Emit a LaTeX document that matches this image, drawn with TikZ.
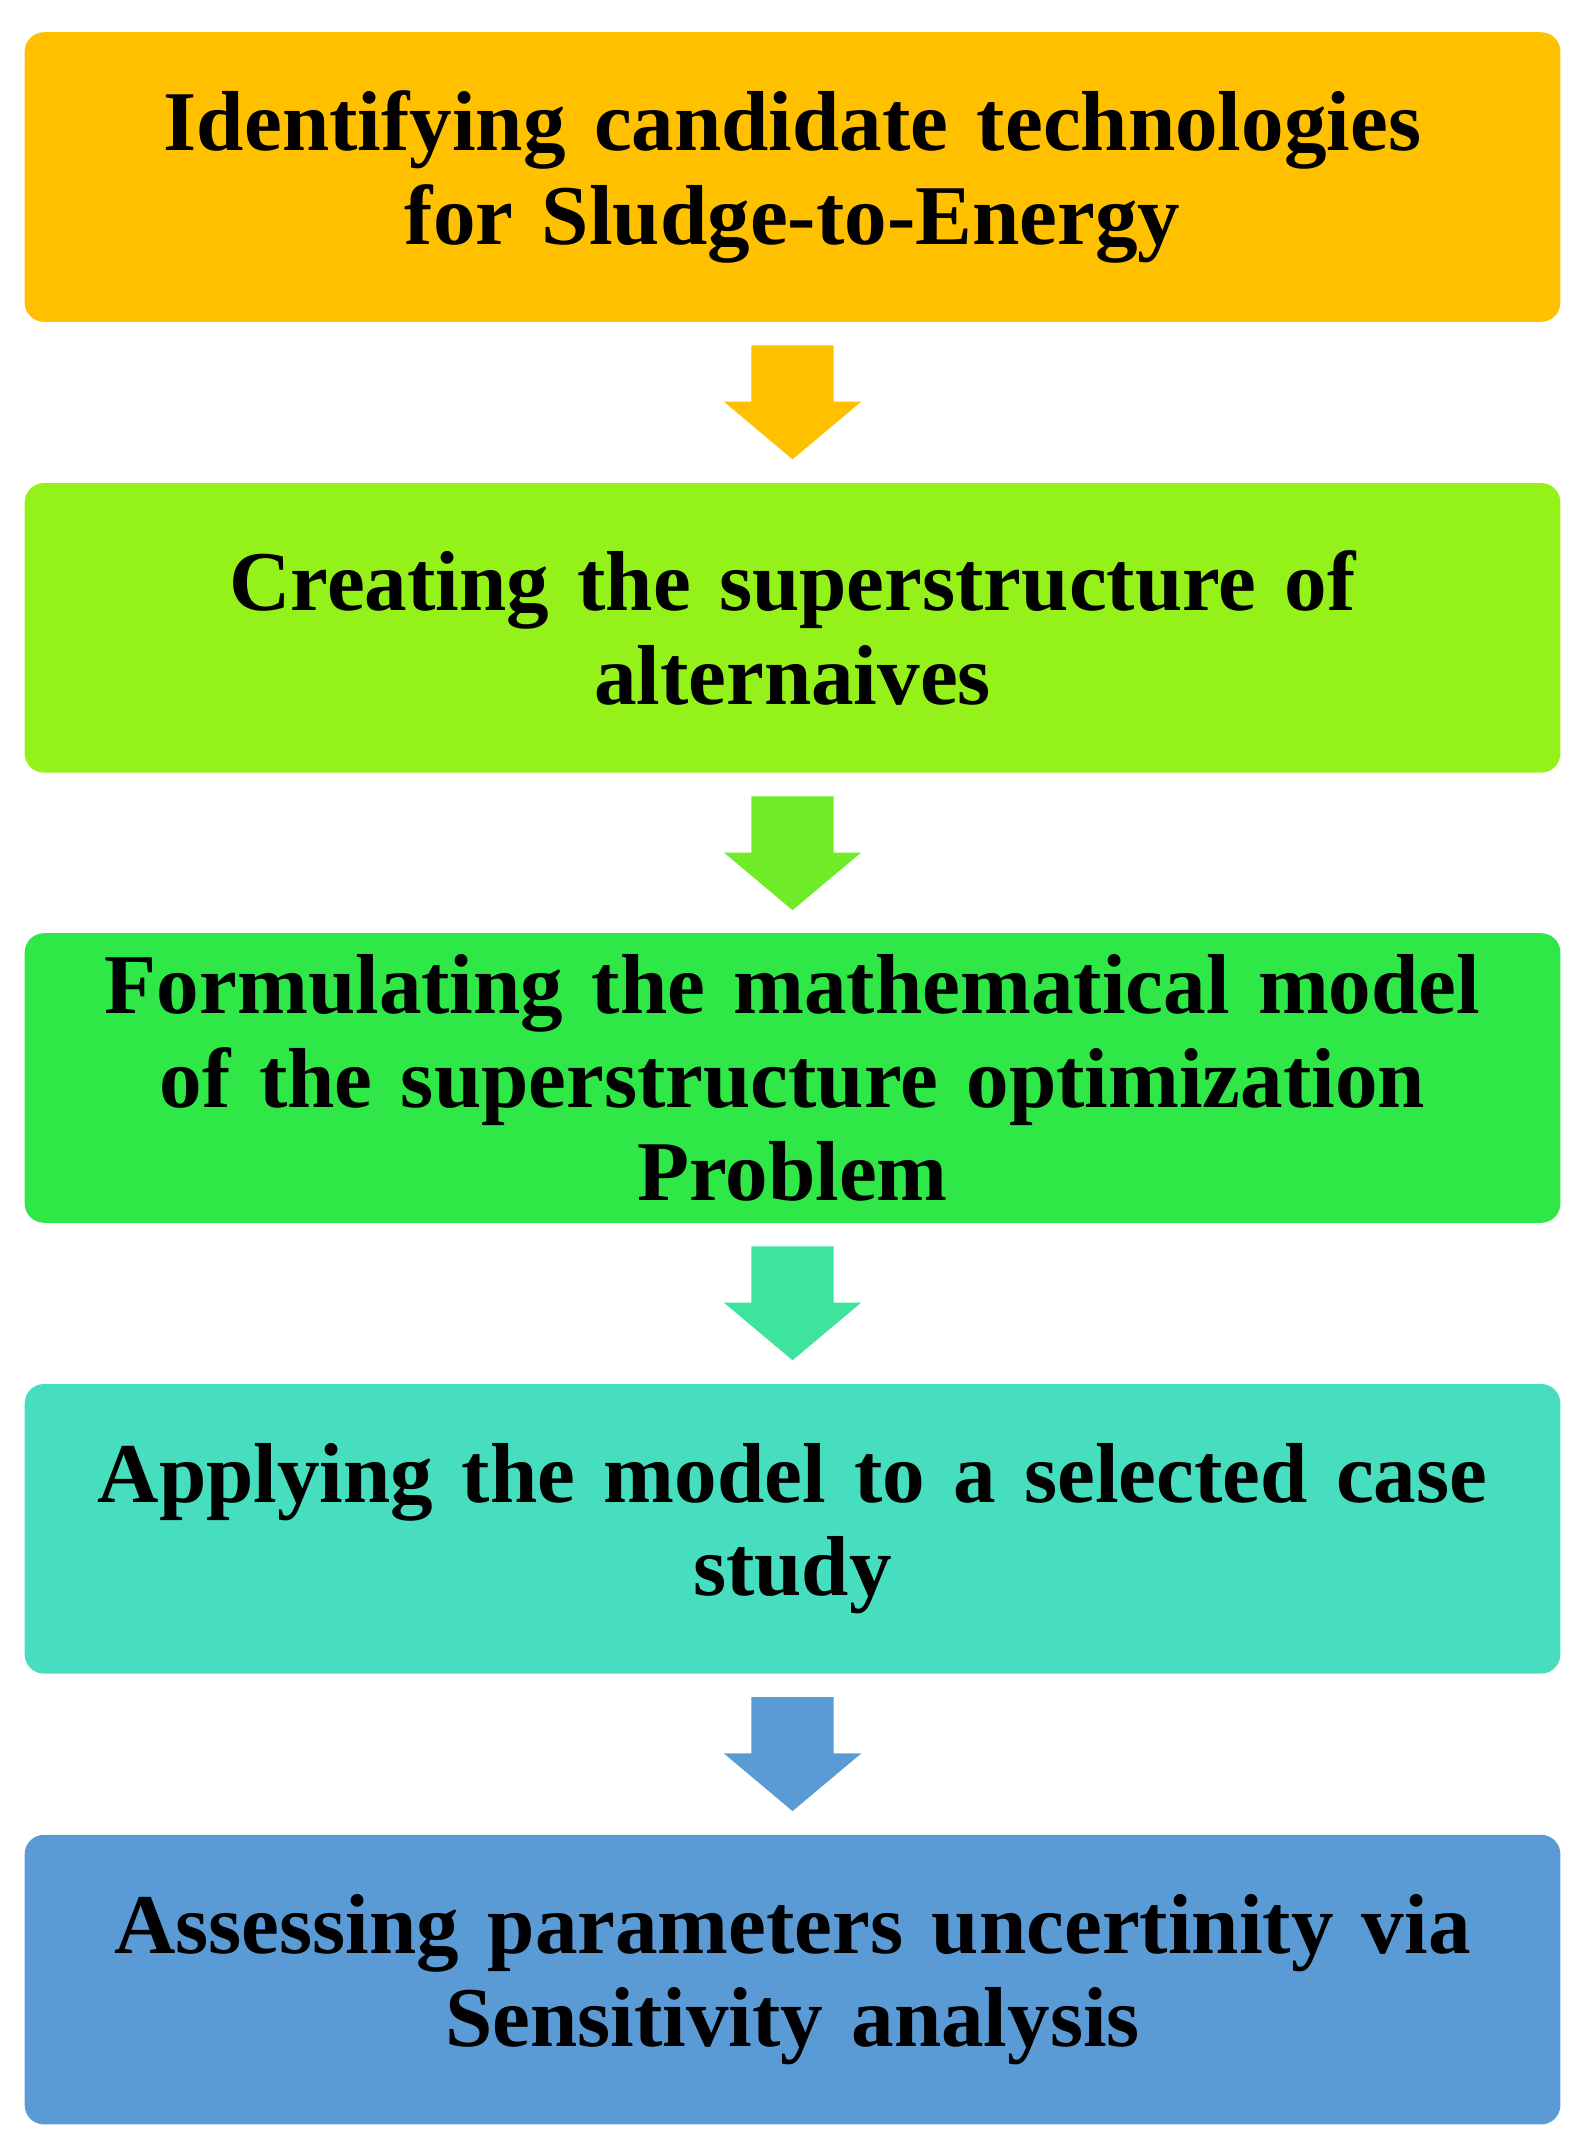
\documentclass[tikz,border=0pt]{standalone}
\usepackage{fontspec}
\setmainfont{Liberation Serif}
\definecolor{c1}{HTML}{FFC000}
\definecolor{c2}{HTML}{95F11A}
\definecolor{c3}{HTML}{2FE746}
\definecolor{c4}{HTML}{47DEC0}
\definecolor{c5}{HTML}{5B9BD5}
\definecolor{a2}{HTML}{6FEC27}
\definecolor{a3}{HTML}{3EE39E}
\begin{document}
\begin{tikzpicture}[x=1pt,y=-1pt,
  stepbox/.style={rounded corners=14pt,minimum width=1119pt,minimum height=211pt,inner sep=0pt,align=center,
    font=\fontsize{62}{68}\selectfont\bfseries,text width=1110pt},
  arr/.style={}]
\useasboundingbox (0,0) rectangle (1157,1563);
\node[stepbox,fill=c1] (b1) at (577.5,129) {Identifying candidate technologies\\for Sludge-to-Energy};
\node[stepbox,fill=c2] (b2) at (577.5,457.5) {Creating the superstructure of\\alternaives};
\node[stepbox,fill=c3] (b3) at (577.5,785.5) {Formulating the mathematical model\\of the superstructure optimization\\Problem};
\node[stepbox,fill=c4] (b4) at (577.5,1114) {Applying the model to a selected case\\study};
\node[stepbox,fill=c5] (b5) at (577.5,1442.5) {Assessing parameters uncertinity via\\Sensitivity analysis};
\foreach \a/\b/\c in {b1/b2/c1,b2/b3/a2,b3/b4/a3,b4/b5/c5}{
  \path (\a.south) ++(0,17) coordinate (\a s);
  \fill[\c] (\a s) ++(-30,0) -- ++(60,0) -- ++(0,41) -- ++(20,0) -- ++(-50,42) -- ++(-50,-42) -- ++(20,0) -- cycle;
}
\end{tikzpicture}
\end{document}
